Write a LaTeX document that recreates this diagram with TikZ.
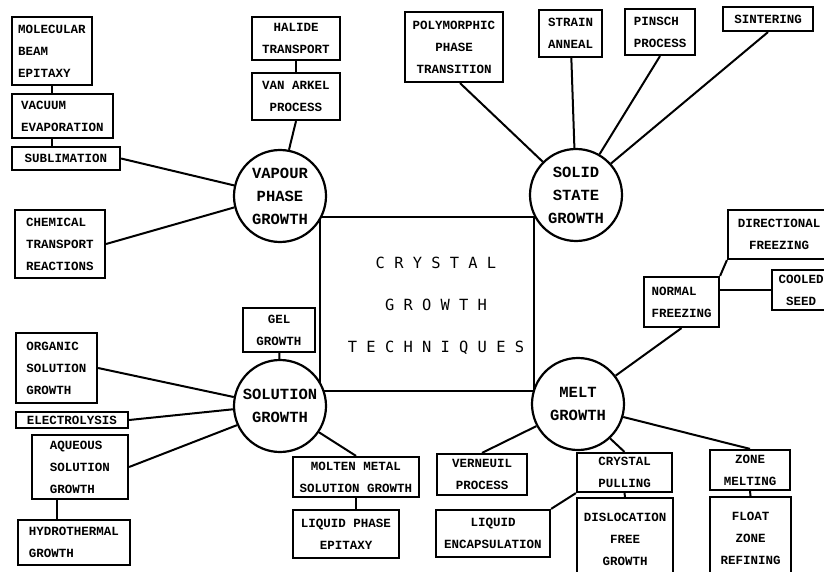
\documentclass[tikz,border=0pt]{standalone}
\usepackage{fontspec}
\newfontfamily\typer{Liberation Mono}
\newfontfamily\gothic{DejaVu Sans Mono}

\begin{document}
\begin{tikzpicture}[x=1pt,y=-1pt,
    link/.style={line width=2pt},
    tbox/.style={draw,line width=2.2pt,inner sep=0pt,align=center,
      font=\typer\bfseries\fontsize{12.5}{22}\selectfont},
    growth/.style={circle,draw,fill=white,line width=2.2pt,minimum size=92pt,
      inner sep=0pt,align=center,font=\typer\bfseries\fontsize{15.5}{23}\selectfont}]
    \useasboundingbox (0,0) rectangle (824,572);

    % centre square and its title
    \node[draw,line width=2pt,minimum width=214pt,minimum height=174pt] (tech) at (427,304) {};
    \node[align=center,font=\gothic\fontsize{15.4}{42}\selectfont] (title) at (436,306)
        {C R Y S T A L\\G R O W T H\\T E C H N I Q U E S};

    % the four main methods
    \node[growth] (vapour) at (280,196) {VAPOUR\\PHASE\\GROWTH};
    \node[growth] (solid) at (576,195) {SOLID\\STATE\\GROWTH};
    \node[growth] (solution) at (280,406) {SOLUTION\\GROWTH};
    \node[growth] (melt) at (578,404) {MELT\\GROWTH};

    % vapour phase
    \node[tbox,minimum width=80pt,minimum height=68pt,align=left] (mbe) at (52,51) {MOLECULAR\\BEAM\\EPITAXY};
    \node[tbox,minimum width=101pt,minimum height=44pt,align=left] (vacuum) at (62.5,116) {VACUUM\\EVAPORATION};
    \node[tbox,minimum width=108pt,minimum height=23pt] (sublim) at (66,158.5) {SUBLIMATION};
    \node[tbox,minimum width=90pt,minimum height=68pt,align=left] (chem) at (60,244) {CHEMICAL\\TRANSPORT\\REACTIONS};
    \node[tbox,minimum width=88pt,minimum height=43pt] (halide) at (296,38.5) {HALIDE\\TRANSPORT};
    \node[tbox,minimum width=88pt,minimum height=47pt] (vanarkel) at (296,96.5) {VAN ARKEL\\PROCESS};

    % solid state
    \node[tbox,minimum width=98pt,minimum height=70pt] (poly) at (454,47) {POLYMORPHIC\\PHASE\\TRANSITION};
    \node[tbox,minimum width=63pt,minimum height=47pt,align=left] (strain) at (570.5,33.5) {STRAIN\\ANNEAL};
    \node[tbox,minimum width=70pt,minimum height=46pt,align=left] (pinsch) at (660,32) {PINSCH\\PROCESS};
    \node[tbox,minimum width=90pt,minimum height=24pt] (sinter) at (768,19) {SINTERING};

    % melt
    \node[tbox,minimum width=102pt,minimum height=49pt] (direct) at (779,234.5) {DIRECTIONAL\\FREEZING};
    \node[tbox,minimum width=75pt,minimum height=50pt,align=left] (normal) at (681.5,302) {NORMAL\\FREEZING};
    \node[tbox,minimum width=58pt,minimum height=40pt] (cooled) at (801,290) {COOLED\\SEED};
    \node[tbox,minimum width=90pt,minimum height=41pt] (verneuil) at (482,474.5) {VERNEUIL\\PROCESS};
    \node[tbox,minimum width=95pt,minimum height=39pt] (pulling) at (624.5,472.5) {CRYSTAL\\PULLING};
    \node[tbox,minimum width=96pt,minimum height=82pt] (disloc) at (625,539) {DISLOCATION\\FREE\\GROWTH};
    \node[tbox,minimum width=114pt,minimum height=47pt] (liquid) at (493,533.5) {LIQUID\\ENCAPSULATION};
    \node[tbox,minimum width=80pt,minimum height=40pt] (zone) at (750,470) {ZONE\\MELTING};
    \node[tbox,minimum width=81pt,minimum height=83pt] (floatz) at (750.5,538.5) {FLOAT\\ZONE\\REFINING};

    % solution
    \node[tbox,minimum width=72pt,minimum height=44pt] (gel) at (279,330) {GEL\\GROWTH};
    \node[tbox,minimum width=81pt,minimum height=70pt,align=left] (organic) at (56.5,368) {ORGANIC\\SOLUTION\\GROWTH};
    \node[tbox,minimum width=112pt,minimum height=16pt] (electro) at (72,420) {ELECTROLYSIS};
    \node[tbox,minimum width=96pt,minimum height=64pt,align=left] (aqueous) at (80,467) {AQUEOUS\\SOLUTION\\GROWTH};
    \node[tbox,minimum width=112pt,minimum height=45pt,align=left] (hydro) at (74,542.5) {HYDROTHERMAL\\GROWTH};
    \node[tbox,minimum width=126pt,minimum height=40pt] (molten) at (356,477) {MOLTEN METAL\\SOLUTION GROWTH};
    \node[tbox,minimum width=106pt,minimum height=48pt] (lpe) at (346,534) {LIQUID PHASE\\EPITAXY};

    \draw[link] (mbe.south) -- (mbe.south |- vacuum.north);
    \draw[link] (vacuum.south -| mbe.south) -- (sublim.north -| mbe.south);
    \draw[link] (sublim.east) -- (vapour.167);
    \draw[link] (chem.east) -- (vapour.194);
    \draw[link] (halide.south) -- (vanarkel.north);
    \draw[link] (vanarkel.south) -- (vapour.79);

    \draw[link] ([xshift=6pt]poly.south) -- (solid.135);
    \draw[link] (strain) -- (solid);
    \draw[link] (pinsch.south) -- (solid.60);
    \draw[link] (sinter.south) -- (solid.42);

    \draw[link] (normal.north east) -- (direct.south west);
    \draw[link] (cooled.west -| normal.east) -- (cooled.west);
    \draw[link] (normal.south) -- (melt.37);
    \draw[link] (verneuil.north) -- (melt.208);
    \draw[link] (pulling.north) -- (melt.-47);
    \draw[link] (pulling.south) -- (disloc.north);
    \draw[link] (liquid.north east) -- (pulling.south west);
    \draw[link] (zone.north) -- (melt.-16);
    \draw[link] (zone.south) -- (floatz.north);

    \draw[link] (gel) -- (solution);
    \draw[link] (organic.east) -- (solution.169);
    \draw[link] (electro.east) -- (solution.184);
    \draw[link] (aqueous.east) -- (solution.204);
    \draw[link] ([xshift=26pt]aqueous.south west) -- ([xshift=26pt]aqueous.south west |- hydro.north);
    \draw[link] (molten.north) -- (solution.-34);
    \draw[link] (molten.south) -- (molten.south |- lpe.north);
\end{tikzpicture}
\end{document}
